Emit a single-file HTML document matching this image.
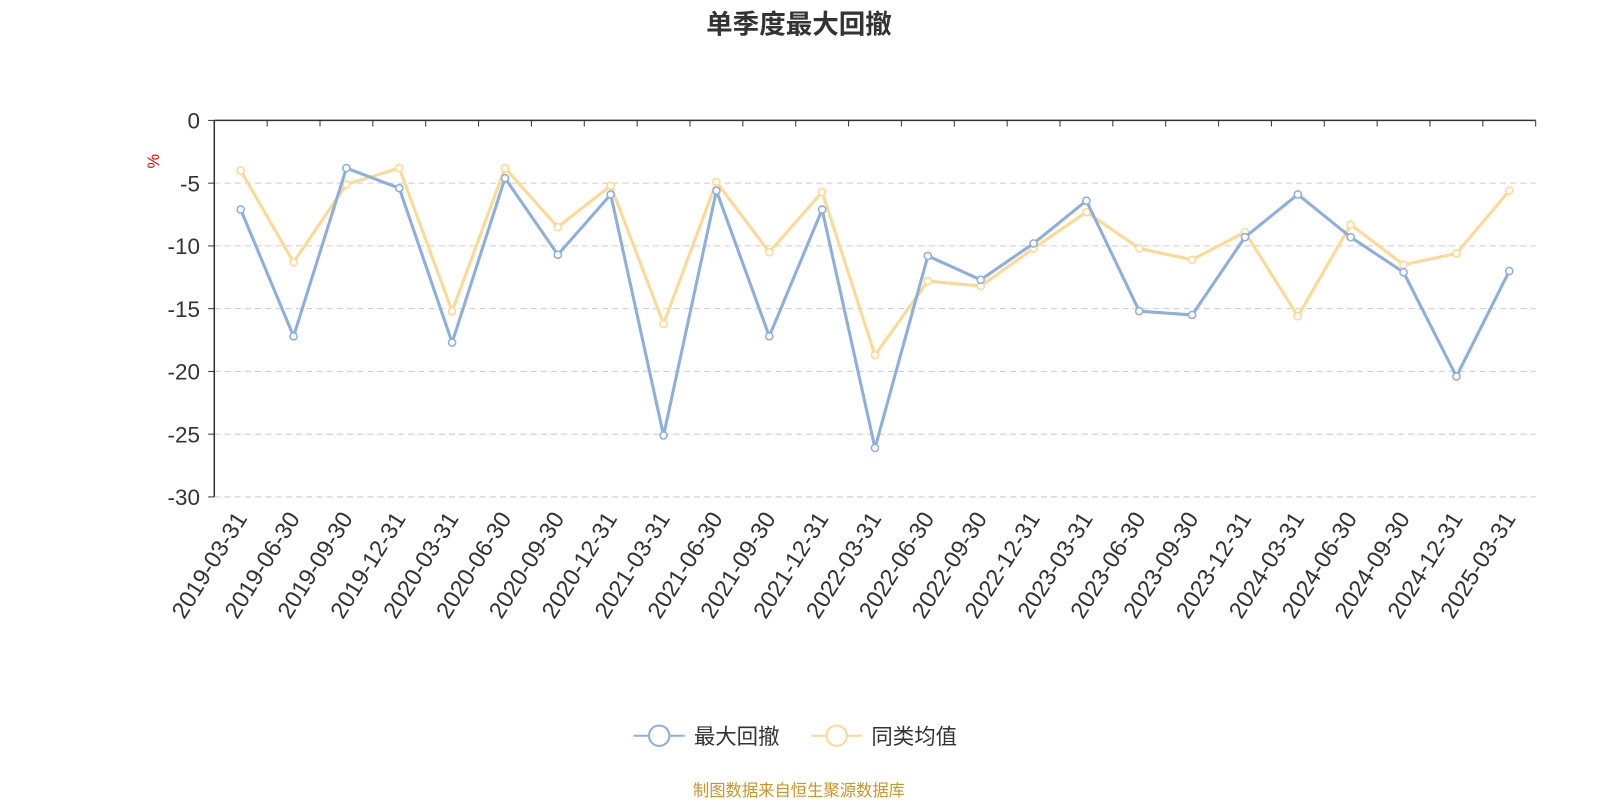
<!DOCTYPE html>
<html><head><meta charset="utf-8"><style>
body{margin:0;background:#fff;width:1600px;height:800px;overflow:hidden;font-family:"Liberation Sans","Noto Sans CJK SC",sans-serif}
</style></head><body>
<svg id="chart" width="1600" height="800" font-family="Liberation Sans, Noto Sans CJK SC, sans-serif">
<g transform="scale(1.0204)">
<text x="783" y="33" text-anchor="middle" font-size="26" font-weight="bold" fill="#333">单季度最大回撤</text>
<text x="0" y="0" transform="translate(156,158) rotate(-90)" text-anchor="middle" font-size="16" fill="#e00">%</text>
<g id="grid"></g><g id="axes"></g><g id="series"></g>
<g>
<g><line x1="621" y1="721" x2="671" y2="721" stroke="#8eaedb" stroke-width="2"/><circle cx="646" cy="721" r="10" fill="#fff" stroke="#8eaedb" stroke-width="2"/><text x="680" y="729" font-size="21" fill="#333">最大回撤</text></g>
<g><line x1="795" y1="721" x2="845" y2="721" stroke="#fcd995" stroke-width="2"/><circle cx="820" cy="721" r="10" fill="#fff" stroke="#fcd995" stroke-width="2"/><text x="854" y="729" font-size="21" fill="#333">同类均值</text></g>
</g>
<text x="783" y="780" text-anchor="middle" font-size="16" fill="#c8962a">制图数据来自恒生聚源数据库</text>
</g>
</svg>
<script>
const categories=["2019-03-31","2019-06-30","2019-09-30","2019-12-31","2020-03-31","2020-06-30","2020-09-30","2020-12-31","2021-03-31","2021-06-30","2021-09-30","2021-12-31","2022-03-31","2022-06-30","2022-09-30","2022-12-31","2023-03-31","2023-06-30","2023-09-30","2023-12-31","2024-03-31","2024-06-30","2024-09-30","2024-12-31","2025-03-31"];
const maxDrawdown=[-7.1,-17.2,-3.8,-5.4,-17.7,-4.6,-10.7,-5.9,-25.1,-5.6,-17.2,-7.1,-26.1,-10.8,-12.7,-9.8,-6.4,-15.2,-15.5,-9.3,-5.9,-9.3,-12.1,-20.4,-12.0];
const peerAverage=[-4.0,-11.3,-5.1,-3.8,-15.2,-3.8,-8.5,-5.2,-16.2,-4.9,-10.5,-5.7,-18.7,-12.8,-13.2,-10.2,-7.3,-10.2,-11.1,-8.9,-15.6,-8.3,-11.5,-10.6,-5.6];
const yTicks=[0,-5,-10,-15,-20,-25,-30];
const NS="http://www.w3.org/2000/svg";
const L=210,R=1505,T=118,B=487,yMin=-30,yMax=0;
const bw=(R-L)/categories.length;
const x=i=>L+bw*(i+0.5);
const y=v=>T+(yMax-v)/(yMax-yMin)*(B-T);
function mk(tag,attrs,parent){const e=document.createElementNS(NS,tag);for(const k in attrs)e.setAttribute(k,attrs[k]);parent.appendChild(e);return e;}
const grid=document.getElementById('grid'),axes=document.getElementById('axes'),series=document.getElementById('series');
yTicks.forEach(t=>{
  if(t!==0){const g=mk('line',{x1:L,x2:R,y1:y(t),y2:y(t),stroke:'#ccc','stroke-dasharray':'6,4'},grid);
  
  }
  mk('line',{x1:L-6,x2:L,y1:y(t),y2:y(t),stroke:'#333'},axes);
  const tx=mk('text',{x:L-14,y:y(t)+8,'text-anchor':'end','font-size':22,fill:'#333'},axes);
  tx.textContent=t;
  
  
});
const ya=mk('line',{x1:L,x2:L,y1:T,y2:B,stroke:'#333','stroke-width':1.5},axes);


const xa=mk('line',{x1:L,x2:R,y1:T,y2:T,stroke:'#333','stroke-width':1.5},axes);


for(let i=0;i<=categories.length;i++){mk('line',{x1:L+bw*i,x2:L+bw*i,y1:T,y2:T+6,stroke:'#333'},axes);}
categories.forEach((c,i)=>{
  const t=mk('text',{transform:`translate(${x(i)+7},${B+21}) rotate(-58)`,'text-anchor':'end','font-size':23,fill:'#333'},axes);
  t.textContent=c;
  
  
});
function draw(vals,color,name){
  const p=mk('polyline',{points:vals.map((v,i)=>x(i)+','+y(v)).join(' '),fill:'none',stroke:color,'stroke-width':3,'stroke-linejoin':'round'},series);
  
  
  vals.forEach((v,i)=>{const c=mk('circle',{cx:x(i),cy:y(v),r:3.5,fill:'#fff',stroke:color,'stroke-width':1.5},series);
  
  });
}
draw(peerAverage,'#fcd995','peer-average');
draw(maxDrawdown,'#8eaedb','max-drawdown');
</script>
</body></html>
